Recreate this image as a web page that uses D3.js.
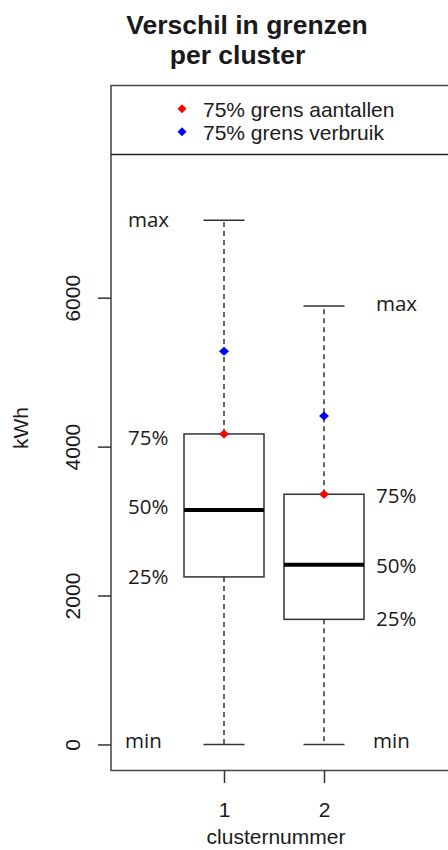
<!DOCTYPE html>
<html>
<head>
<meta charset="utf-8">
<script src="https://cdn.jsdelivr.net/npm/d3@7"></script>
<style>
  html, body { margin: 0; padding: 0; background: #ffffff; }
  svg { display: block; }
</style>
</head>
<body>
<div id="chart"></div>
<script>
// Box statistics per cluster (kWh)
const clusters = [1, 2];
const minVals = [0, 0];
const q1Vals = [2250, 1680];
const medianVals = [3150, 2415];
const q3Vals = [4170, 3360];
const maxVals = [7040, 5890];

// 75% thresholds per cluster
const grensAantallen = [4170, 3360];
const grensVerbruik = [5280, 4410];

const yTicks = [0, 2000, 4000, 6000];
const legendLabels = ["75% grens aantallen", "75% grens verbruik"];
const legendColors = ["#ff0000", "#0000ff"];

// Annotation text next to each box and the heights they sit at
const statNames = ["max", "75%", "50%", "25%", "min"];
const statLabelY1 = [7050, 4125, 3200, 2250, 45];
const statLabelY2 = [5915, 3345, 2405, 1695, 45];

const W = 448, H = 850;
const svg = d3.select("#chart").append("svg")
  .attr("width", W).attr("height", H)
  .attr("viewBox", `0 0 ${W} ${H}`);

const plotLeft = 111, plotTop = 85.5, plotBottom = 770.5, plotRight = 461;

const x = d3.scaleLinear().domain([-0.13, 3.37]).range([plotLeft, plotRight]);
const y = d3.scaleLinear().domain([-350, 8850]).range([plotBottom, plotTop]);

const ink = "#1a1a1a";
const sansArial = "'Liberation Sans', Arial, sans-serif";
const sansLabel = "'Open Sans', 'Noto Sans', sans-serif";

// Title
const title = svg.append("g")
  .attr("font-family", sansArial)
  .attr("font-weight", "bold")
  .attr("font-size", 26.5)
  .attr("fill", ink)
  .attr("text-anchor", "middle");
title.append("text").attr("x", 247).attr("y", 34).text("Verschil in grenzen");
title.append("text").attr("x", 237.5).attr("y", 64).text("per cluster");

// Plot frame and legend separator
svg.append("path")
  .attr("d", `M${plotRight},${plotTop}H${plotLeft}V${plotBottom}H${plotRight}`)
  .attr("fill", "none").attr("stroke", "#444").attr("stroke-width", 1.5);
svg.append("line")
  .attr("x1", plotLeft).attr("x2", plotRight)
  .attr("y1", 154.5).attr("y2", 154.5)
  .attr("stroke", "#222").attr("stroke-width", 1.6);

// Legend
const diamond = (cx, cy, rx, ry) => `M${cx},${cy - ry}L${cx + rx},${cy}L${cx},${cy + ry}L${cx - rx},${cy}Z`;
const legendY = [108.7, 131.7];
legendLabels.forEach((lab, i) => {
  svg.append("path").attr("d", diamond(182, legendY[i], 4.5, 4.5)).attr("fill", legendColors[i]);
  svg.append("text")
    .attr("x", 203).attr("y", legendY[i] + 8)
    .attr("font-family", sansArial).attr("font-size", 21)
    .attr("fill", ink).text(lab);
});

// Y axis
const yAxis = svg.append("g")
  .attr("transform", `translate(${plotLeft},0)`)
  .call(d3.axisLeft(y).tickValues(yTicks).tickSize(13).tickFormat(d3.format("d")));
yAxis.select(".domain").remove();
yAxis.selectAll(".tick line").attr("stroke", "#333").attr("stroke-width", 1.5);
yAxis.selectAll(".tick text")
  .attr("x", null).attr("dy", null)
  .attr("text-anchor", "middle")
  .attr("transform", "translate(-31,0) rotate(-90)")
  .attr("font-family", sansArial).attr("font-size", 21)
  .attr("fill", ink);

// X axis
const xAxis = svg.append("g")
  .attr("transform", `translate(0,${plotBottom})`)
  .call(d3.axisBottom(x).tickValues(clusters).tickSize(12.5).tickFormat(d3.format("d")));
xAxis.select(".domain").remove();
xAxis.selectAll(".tick line").attr("stroke", "#333").attr("stroke-width", 1.5);
xAxis.selectAll(".tick text")
  .attr("y", 46.5).attr("dy", null)
  .attr("font-family", sansArial).attr("font-size", 21)
  .attr("fill", ink);

// Axis titles
svg.append("text")
  .attr("transform", `translate(28,${(plotTop + plotBottom) / 2}) rotate(-90)`)
  .attr("text-anchor", "middle")
  .attr("font-family", sansArial).attr("font-size", 21)
  .attr("fill", ink).text("kWh");
svg.append("text")
  .attr("x", 276).attr("y", 844)
  .attr("text-anchor", "middle")
  .attr("font-family", sansArial).attr("font-size", 21)
  .attr("fill", ink).text("clusternummer");

// Boxes
const boxHalf = 0.4, capHalf = 0.205;
const boxes = svg.append("g");
clusters.forEach((c, i) => {
  const g = boxes.append("g");
  // whiskers
  g.append("line")
    .attr("x1", x(c)).attr("x2", x(c))
    .attr("y1", y(q3Vals[i])).attr("y2", y(maxVals[i]))
    .attr("stroke", "#333").attr("stroke-width", 1.5).attr("stroke-dasharray", "5,4");
  g.append("line")
    .attr("x1", x(c)).attr("x2", x(c))
    .attr("y1", y(q1Vals[i])).attr("y2", y(minVals[i]))
    .attr("stroke", "#333").attr("stroke-width", 1.5).attr("stroke-dasharray", "5,4");
  // caps
  [maxVals[i], minVals[i]].forEach(v => {
    g.append("line")
      .attr("x1", x(c - capHalf)).attr("x2", x(c + capHalf))
      .attr("y1", y(v)).attr("y2", y(v))
      .attr("stroke", "#333").attr("stroke-width", 1.5);
  });
  // box
  g.append("rect")
    .attr("x", x(c - boxHalf)).attr("width", x(c + boxHalf) - x(c - boxHalf))
    .attr("y", y(q3Vals[i])).attr("height", y(q1Vals[i]) - y(q3Vals[i]))
    .attr("fill", "#fff").attr("stroke", "#333").attr("stroke-width", 1.5);
  // median
  g.append("line")
    .attr("x1", x(c - boxHalf)).attr("x2", x(c + boxHalf))
    .attr("y1", y(medianVals[i])).attr("y2", y(medianVals[i]))
    .attr("stroke", "#000").attr("stroke-width", 4);
  // threshold markers
  g.append("path").attr("d", diamond(x(c), y(grensVerbruik[i]), 5, 4.5)).attr("fill", "#0000ff");
  g.append("path").attr("d", diamond(x(c), y(grensAantallen[i]), 5, 4.5)).attr("fill", "#ff0000");
});

// Stat annotations
const ann = svg.append("g")
  .attr("font-family", sansLabel).attr("font-size", 20.5)
  .attr("fill", ink);
statNames.forEach((name, j) => {
  const shift = name === "min" ? -3 : 0;
  ann.append("text")
    .attr("x", 128 + shift).attr("y", y(statLabelY1[j]))
    .attr("dy", "0.36em").text(name);
  ann.append("text")
    .attr("x", 376 + shift).attr("y", y(statLabelY2[j]))
    .attr("dy", "0.36em").text(name);
});
</script>
</body>
</html>
